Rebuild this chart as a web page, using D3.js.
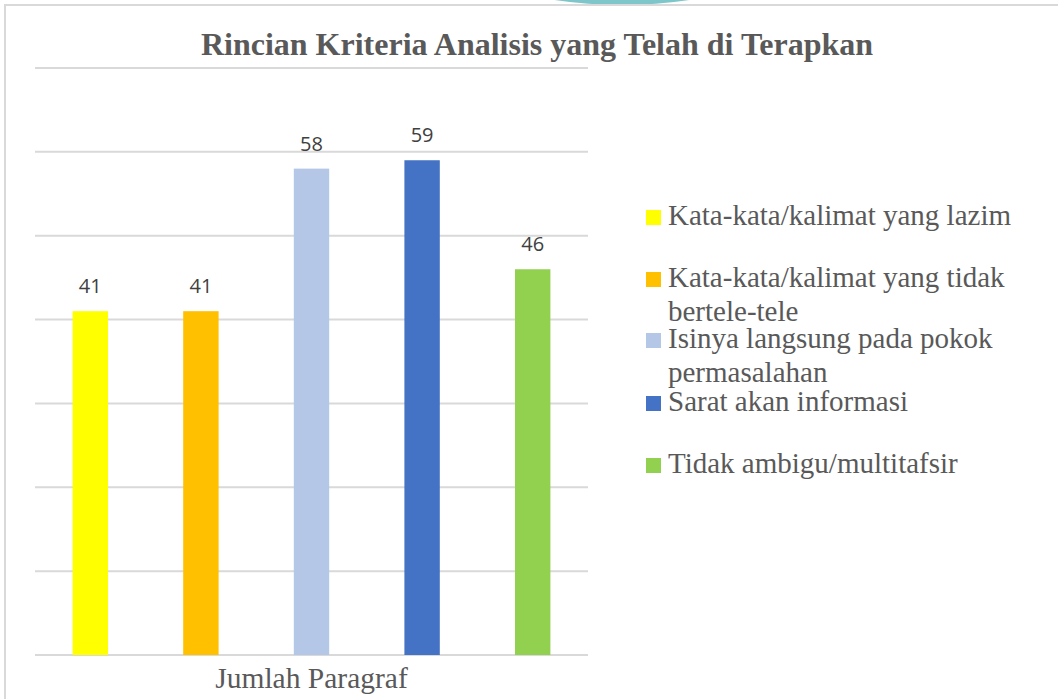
<!DOCTYPE html>
<html>
<head>
<meta charset="utf-8">
<script src="https://cdn.jsdelivr.net/npm/d3@7"></script>
<style>
  body { margin: 0; background: #fff; }
  svg { display: block; }
</style>
</head>
<body>
<div id="chart"></div>
<script>
// Chart data
const seriesNames = [
  "Kata-kata/kalimat yang lazim",
  "Kata-kata/kalimat yang tidak bertele-tele",
  "Isinya langsung pada pokok permasalahan",
  "Sarat akan informasi",
  "Tidak ambigu/multitafsir",
];
const seriesValues = [41, 41, 58, 59, 46];
const seriesColors = ["#ffff00", "#ffc000", "#b4c7e7", "#4472c4", "#92d050"];
const categoryLabel = "Jumlah Paragraf";
const yTicks = [0, 10, 20, 30, 40, 50, 60, 70];
const chartTitle = "Rincian Kriteria Analisis yang Telah di Terapkan";

const width = 1058;
const height = 699;
const margin = { top: 68, right: 470, bottom: 44, left: 35 };
const serif = "'Liberation Serif', 'Times New Roman', serif";

const svg = d3
  .select("#chart")
  .append("svg")
  .attr("width", width)
  .attr("height", height);

// faint watermark ring peeking at the top edge
svg
  .append("circle")
  .attr("cx", 622)
  .attr("cy", -446)
  .attr("r", 448)
  .attr("fill", "none")
  .attr("stroke", "#7fc6ca")
  .attr("stroke-width", 6);

svg
  .append("rect")
  .attr("x", 5)
  .attr("y", 5)
  .attr("width", width)
  .attr("height", height)
  .attr("fill", "#fff")
  .attr("stroke", "#d9d9d9")
  .attr("stroke-width", 2);

const xScale = d3
  .scaleBand()
  .domain(seriesNames)
  .range([margin.left, width - margin.right])
  .paddingInner(0.68)
  .paddingOuter(0.34);

const yScale = d3
  .scaleLinear()
  .domain([0, 70])
  .range([height - margin.bottom, margin.top]);

// gridlines
svg
  .selectAll(".grid")
  .data(yTicks)
  .join("line")
  .attr("class", "grid")
  .attr("x1", margin.left)
  .attr("x2", width - margin.right)
  .attr("y1", (d) => yScale(d))
  .attr("y2", (d) => yScale(d))
  .attr("stroke", "#d9d9d9")
  .attr("stroke-width", 2);

// bars
svg
  .selectAll(".bar")
  .data(seriesValues)
  .join("rect")
  .attr("class", "bar")
  .attr("x", (d, i) => xScale(seriesNames[i]))
  .attr("y", (d) => yScale(d))
  .attr("width", xScale.bandwidth())
  .attr("height", (d) => yScale(0) - yScale(d))
  .attr("fill", (d, i) => seriesColors[i]);

// value labels
svg
  .selectAll(".val")
  .data(seriesValues)
  .join("text")
  .attr("class", "val")
  .attr("x", (d, i) => xScale(seriesNames[i]) + xScale.bandwidth() / 2)
  .attr("y", (d) => yScale(d) - 18)
  .attr("text-anchor", "middle")
  .style("font-family", "'Open Sans', 'Liberation Sans', sans-serif")
  .style("font-size", "20px")
  .style("fill", "#404040")
  .text((d) => d);

// category axis label
svg
  .append("text")
  .attr("x", (margin.left + width - margin.right) / 2)
  .attr("y", 688)
  .attr("text-anchor", "middle")
  .style("font-family", serif)
  .style("font-size", "29.5px")
  .style("fill", "#595959")
  .text(categoryLabel);

// title
svg
  .append("text")
  .attr("x", 537)
  .attr("y", 55)
  .attr("text-anchor", "middle")
  .style("font-family", serif)
  .style("font-size", "32px")
  .style("font-weight", "bold")
  .style("fill", "#595959")
  .text(chartTitle);

// legend
const legendY = [225, 287, 348, 411, 473];
const legend = svg
  .selectAll(".legend")
  .data(seriesNames)
  .join("g")
  .attr("class", "legend")
  .attr("transform", (d, i) => `translate(646, ${legendY[i]})`);

legend
  .append("rect")
  .attr("x", 0)
  .attr("y", -15)
  .attr("width", 15)
  .attr("height", 15)
  .attr("fill", (d, i) => seriesColors[i]);

legend.each(function (name) {
  const g = d3.select(this);
  const text = g
    .append("text")
    .attr("x", 22)
    .attr("y", 0)
    .style("font-family", serif)
    .style("font-size", "29px")
    .style("fill", "#595959");
  // wrap to the legend width
  const words = name.split(" ");
  let line = [];
  let lineNo = 0;
  let tspan = text.append("tspan").attr("x", 22).attr("y", 0);
  words.forEach((w) => {
    line.push(w);
    tspan.text(line.join(" "));
    if (tspan.node().getComputedTextLength() > 375 && line.length > 1) {
      line.pop();
      tspan.text(line.join(" "));
      line = [w];
      lineNo++;
      tspan = text
        .append("tspan")
        .attr("x", 22)
        .attr("y", lineNo * 34)
        .text(w);
    }
  });
});
</script>
</body>
</html>
